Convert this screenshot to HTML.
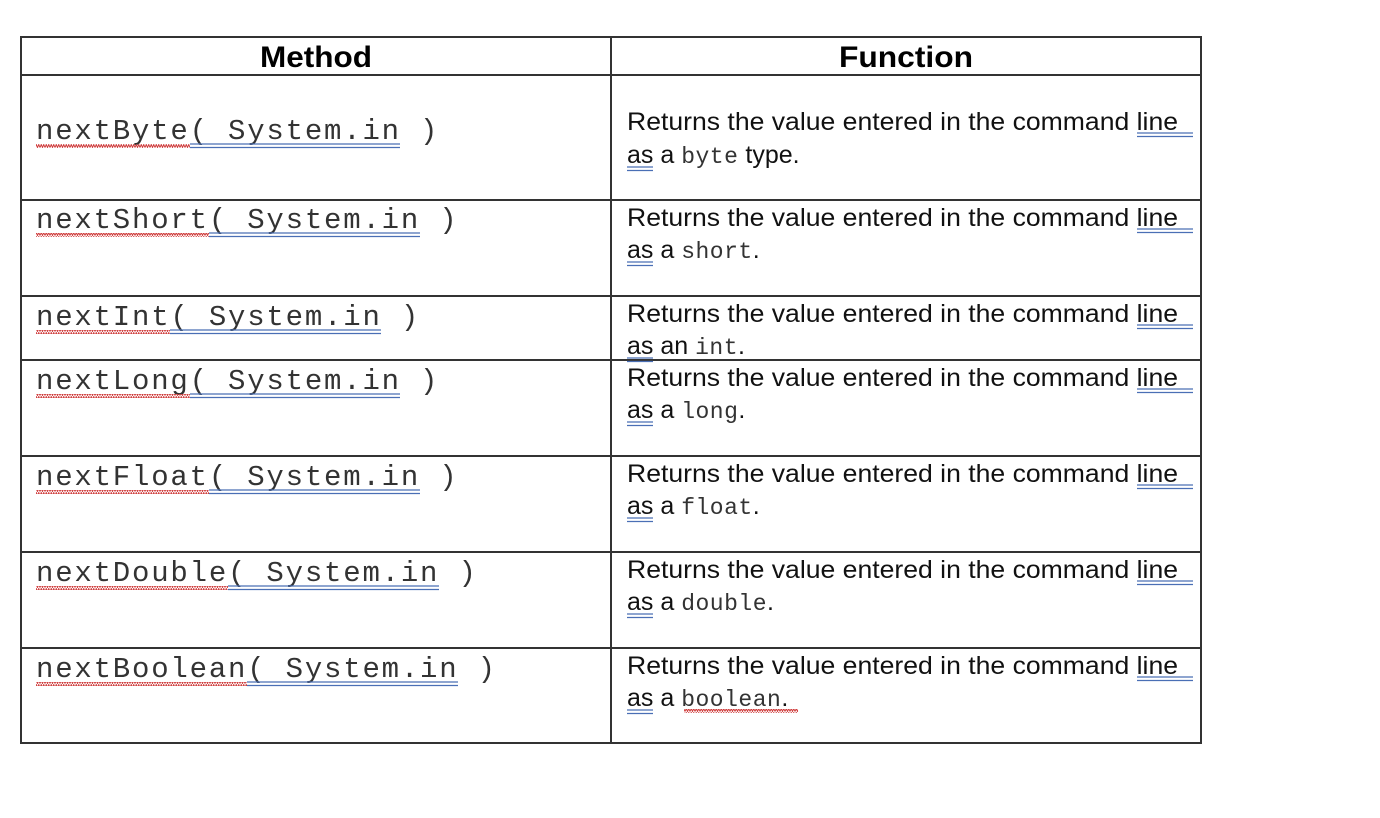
<!DOCTYPE html>
<html><head><meta charset="utf-8"><style>
html,body{margin:0;padding:0;background:#fff;}
svg{display:block}
.m{font-family:"Liberation Mono",monospace;font-size:29px;letter-spacing:1.8px;fill:#333}
.s{font-family:"Liberation Sans",sans-serif;font-size:25px;fill:#111}
.c{font-family:"Liberation Mono",monospace;font-size:23px;letter-spacing:0.5px;fill:#333}
.h{font-family:"Liberation Sans",sans-serif;font-size:30px;font-weight:bold;fill:#000}
</style></head><body>
<svg width="1380" height="818" viewBox="0 0 1380 818" xmlns="http://www.w3.org/2000/svg">
<defs>
<pattern id="wv" width="5" height="4" patternUnits="userSpaceOnUse">
<path d="M0,3.5 L1.25,0.5 L2.5,3.5 L3.75,0.5 L5,3.5" stroke="#d04040" stroke-width="1" fill="none"/>
</pattern>
</defs>
<g stroke="#333" stroke-width="2" fill="none">
<rect x="21" y="37" width="1180" height="706"/>
<line x1="611" y1="37" x2="611" y2="743"/>
<line x1="21" y1="75" x2="1201" y2="75"/>
<line x1="21" y1="200" x2="1201" y2="200"/>
<line x1="21" y1="296" x2="1201" y2="296"/>
<line x1="21" y1="360" x2="1201" y2="360"/>
<line x1="21" y1="456" x2="1201" y2="456"/>
<line x1="21" y1="552" x2="1201" y2="552"/>
<line x1="21" y1="648" x2="1201" y2="648"/>
</g>
<text class="h" x="316" y="67" text-anchor="middle" textLength="112" lengthAdjust="spacingAndGlyphs">Method</text>
<text class="h" x="906" y="67" text-anchor="middle" textLength="134" lengthAdjust="spacingAndGlyphs">Function</text>

<text class="m" x="36" y="139">nextByte( System.in )</text>
<rect x="36" y="144" width="154" height="4" fill="url(#wv)"/>
<g stroke="#4a6fb5" stroke-width="1.3"><line x1="190" y1="144" x2="400" y2="144"/><line x1="190" y1="147.5" x2="400" y2="147.5"/></g>
<text class="m" x="36" y="228">nextShort( System.in )</text>
<rect x="36" y="233" width="173" height="4" fill="url(#wv)"/>
<g stroke="#4a6fb5" stroke-width="1.3"><line x1="209" y1="233" x2="420" y2="233"/><line x1="209" y1="236.5" x2="420" y2="236.5"/></g>
<text class="m" x="36" y="325">nextInt( System.in )</text>
<rect x="36" y="330" width="134" height="4" fill="url(#wv)"/>
<g stroke="#4a6fb5" stroke-width="1.3"><line x1="170" y1="330" x2="381" y2="330"/><line x1="170" y1="333.5" x2="381" y2="333.5"/></g>
<text class="m" x="36" y="389">nextLong( System.in )</text>
<rect x="36" y="394" width="154" height="4" fill="url(#wv)"/>
<g stroke="#4a6fb5" stroke-width="1.3"><line x1="190" y1="394" x2="400" y2="394"/><line x1="190" y1="397.5" x2="400" y2="397.5"/></g>
<text class="m" x="36" y="485">nextFloat( System.in )</text>
<rect x="36" y="490" width="173" height="4" fill="url(#wv)"/>
<g stroke="#4a6fb5" stroke-width="1.3"><line x1="209" y1="490" x2="420" y2="490"/><line x1="209" y1="493.5" x2="420" y2="493.5"/></g>
<text class="m" x="36" y="581">nextDouble( System.in )</text>
<rect x="36" y="586" width="192" height="4" fill="url(#wv)"/>
<g stroke="#4a6fb5" stroke-width="1.3"><line x1="228" y1="586" x2="439" y2="586"/><line x1="228" y1="589.5" x2="439" y2="589.5"/></g>
<text class="m" x="36" y="677">nextBoolean( System.in )</text>
<rect x="36" y="682" width="211" height="4" fill="url(#wv)"/>
<g stroke="#4a6fb5" stroke-width="1.3"><line x1="247" y1="682" x2="458" y2="682"/><line x1="247" y1="685.5" x2="458" y2="685.5"/></g>

<g>
<text class="s" x="627" y="130" textLength="551" lengthAdjust="spacingAndGlyphs">Returns the value entered in the command line</text>
<text class="s" x="627" y="163">as a <tspan class="c">byte</tspan> type.</text>
<text class="s" x="627" y="226" textLength="551" lengthAdjust="spacingAndGlyphs">Returns the value entered in the command line</text>
<text class="s" x="627" y="258">as a <tspan class="c">short</tspan>.</text>
<text class="s" x="627" y="322" textLength="551" lengthAdjust="spacingAndGlyphs">Returns the value entered in the command line</text>
<text class="s" x="627" y="354">as an <tspan class="c">int</tspan>.</text>
<text class="s" x="627" y="386" textLength="551" lengthAdjust="spacingAndGlyphs">Returns the value entered in the command line</text>
<text class="s" x="627" y="418">as a <tspan class="c">long</tspan>.</text>
<text class="s" x="627" y="482" textLength="551" lengthAdjust="spacingAndGlyphs">Returns the value entered in the command line</text>
<text class="s" x="627" y="514">as a <tspan class="c">float</tspan>.</text>
<text class="s" x="627" y="578" textLength="551" lengthAdjust="spacingAndGlyphs">Returns the value entered in the command line</text>
<text class="s" x="627" y="610">as a <tspan class="c">double</tspan>.</text>
<text class="s" x="627" y="674" textLength="551" lengthAdjust="spacingAndGlyphs">Returns the value entered in the command line</text>
<text class="s" x="627" y="706">as a <tspan class="c">boolean</tspan>.</text>
<rect x="684" y="709" width="114" height="4" fill="url(#wv)"/>
<g stroke="#4a6fb5" stroke-width="1.3">
<line x1="1137" y1="133" x2="1193" y2="133"/><line x1="1137" y1="136.5" x2="1193" y2="136.5"/>
<line x1="627" y1="167" x2="653" y2="167"/><line x1="627" y1="170.5" x2="653" y2="170.5"/>
<line x1="1137" y1="229" x2="1193" y2="229"/><line x1="1137" y1="232.5" x2="1193" y2="232.5"/>
<line x1="627" y1="262" x2="653" y2="262"/><line x1="627" y1="265.5" x2="653" y2="265.5"/>
<line x1="1137" y1="325" x2="1193" y2="325"/><line x1="1137" y1="328.5" x2="1193" y2="328.5"/>
<line x1="627" y1="358" x2="653" y2="358"/><line x1="627" y1="361.5" x2="653" y2="361.5"/>
<line x1="1137" y1="389" x2="1193" y2="389"/><line x1="1137" y1="392.5" x2="1193" y2="392.5"/>
<line x1="627" y1="422" x2="653" y2="422"/><line x1="627" y1="425.5" x2="653" y2="425.5"/>
<line x1="1137" y1="485" x2="1193" y2="485"/><line x1="1137" y1="488.5" x2="1193" y2="488.5"/>
<line x1="627" y1="518" x2="653" y2="518"/><line x1="627" y1="521.5" x2="653" y2="521.5"/>
<line x1="1137" y1="581" x2="1193" y2="581"/><line x1="1137" y1="584.5" x2="1193" y2="584.5"/>
<line x1="627" y1="614" x2="653" y2="614"/><line x1="627" y1="617.5" x2="653" y2="617.5"/>
<line x1="1137" y1="677" x2="1193" y2="677"/><line x1="1137" y1="680.5" x2="1193" y2="680.5"/>
<line x1="627" y1="710" x2="653" y2="710"/><line x1="627" y1="713.5" x2="653" y2="713.5"/>
</g>
</g>
</svg>
</body></html>
